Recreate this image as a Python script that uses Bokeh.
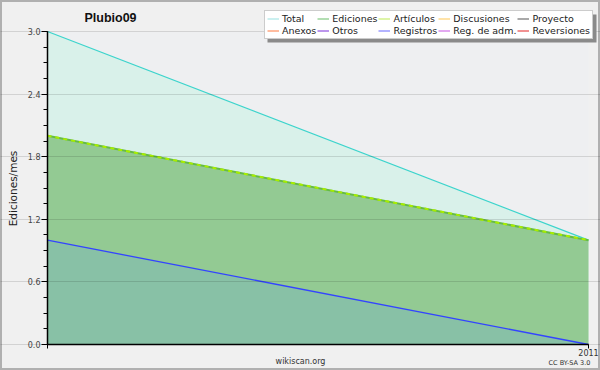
import numpy as np
from bokeh.plotting import figure
from bokeh.models import Range1d, FixedTicker, Label, Legend, LegendItem, BoxAnnotation
from bokeh.embed import file_html
from bokeh.resources import INLINE

# ---- data ----
months = ["2010-12", "2011-01"]
total = [3, 1]
ediciones = [2, 1]
articulos = [2, 1]
discusiones = [0, 0]
proyecto = [0, 0]
anexos = [0, 0]
otros = [0, 0]
registros = [1, 0]
reg_adm = [0, 0]
reversiones = [0, 0]
y_ticks = [0.0, 0.6, 1.2, 1.8, 2.4, 3.0]
x_tick_labels = ["", "2011"]
series_names = ["Total", "Ediciones", "Artículos", "Discusiones", "Proyecto",
                "Anexos", "Otros", "Registros", "Reg. de adm.", "Reversiones"]

x = list(range(len(months)))
x0, x1 = x[0], x[-1]
y0, y1 = 0.0, 3.0

W, H = 600, 370
# plot area in pixels (left, right, top, bottom)
PL, PR, PT, PB = 47, 588, 31, 344
sx = (x1 - x0) / (PR - PL)
sy = (y1 - y0) / (PB - PT)

FONT = "DejaVu Sans"

p = figure(width=W, height=H,
           x_range=Range1d(x0 - PL * sx, x1 + (W - PR) * sx),
           y_range=Range1d(y0 - (H - PB) * sy, y1 + PT * sy),
           output_backend="svg", toolbar_location=None,
           min_border_left=0, min_border_right=0, min_border_top=0, min_border_bottom=0,
           background_fill_color="#f0f0f0", border_fill_color="#f0f0f0")
p.title.visible = False
p.outline_line_color = "#b0b0b0"
p.outline_line_width = 3

# plot-area background
p.add_layout(BoxAnnotation(left=x0, right=x1, bottom=y0, top=y1, fill_color="#eeeff1",
                           fill_alpha=1, line_color=None, level="underlay"))

# fills
zeros = [0] * len(x)
p.varea(x=x, y1=zeros, y2=total, fill_color="#d9f1ea")
p.varea(x=x, y1=zeros, y2=ediciones, fill_color="#93ca93")
p.varea(x=x, y1=zeros, y2=registros, fill_color="#88c1a6")

# lines
line_colors = ["#3cd4cc", "#66bb44", "#a8ee00", "#ffcc44", "#606060",
               "#ff7744", "#8844dd", "#3344ff", "#cc55dd", "#dd3333"]
series = [total, ediciones, articulos, discusiones, proyecto,
          anexos, otros, registros, reg_adm, reversiones]
widths = [1.3, 2, 2, 1, 1, 1, 1, 1.3, 1, 1]
for name, vals, col, lw in zip(series_names, series, line_colors, widths):
    if name == "Artículos":
        p.line(x, vals, line_color=col, line_width=lw, line_dash="4 4")
    else:
        p.line(x, vals, line_color=col, line_width=lw)

# grid
p.xgrid.visible = False
p.ygrid.ticker = FixedTicker(ticks=y_ticks)
p.ygrid.bounds = (x0, x1)
p.ygrid.grid_line_color = "#000000"
p.ygrid.grid_line_alpha = 0.12
p.ygrid.level = "guide"

# y axis
yax = p.yaxis[0]
yax.fixed_location = x0
yax.bounds = (y0, y1)
yax.ticker = FixedTicker(ticks=y_ticks, minor_ticks=list(np.arange(0, 3.0001, 0.15)))
yax.major_label_overrides = {t: f"{t:.1f}" for t in y_ticks}
yax.major_tick_out = 6
yax.major_tick_in = 0
yax.minor_tick_out = 4
yax.minor_tick_in = 0
yax.major_label_standoff = 1
yax.axis_line_color = "black"
yax.axis_line_width = 1.5
yax.major_tick_line_color = "black"
yax.minor_tick_line_color = "black"
yax.major_label_text_font = FONT
yax.major_label_text_font_size = "8px"
yax.major_label_text_color = "#444444"

# x axis
xax = p.xaxis[0]
xax.fixed_location = y0
xax.bounds = (x0, x1)
xax.ticker = FixedTicker(ticks=x, minor_ticks=[])
xax.major_label_overrides = {xi: lab for xi, lab in zip(x, x_tick_labels)}
xax.major_tick_out = 4
xax.major_tick_in = 0
xax.minor_tick_out = 0
xax.major_label_standoff = 0
xax.axis_line_color = "black"
xax.axis_line_width = 1.5
xax.major_tick_line_color = "black"
xax.major_label_text_font = FONT
xax.major_label_text_font_size = "8px"
xax.major_label_text_color = "#333333"

# texts (screen units: origin at bottom-left of the canvas)
p.add_layout(Label(x=110, y=H - 17, x_units="screen", y_units="screen", text="Plubio09",
                   text_font="Liberation Sans", text_font_size="12.5px", text_font_style="bold",
                   text_align="center", text_baseline="middle", text_color="#111111"))
p.add_layout(Label(x=12, y=H - 188, x_units="screen", y_units="screen", text="Ediciones/mes",
                   angle=np.pi / 2, text_font=FONT, text_font_size="10.5px",
                   text_align="center", text_baseline="middle", text_color="#222222"))
p.add_layout(Label(x=300, y=H - 361, x_units="screen", y_units="screen", text="wikiscan.org",
                   text_font=FONT, text_font_size="8px",
                   text_align="center", text_baseline="middle", text_color="#333333"))
p.add_layout(Label(x=569, y=H - 362, x_units="screen", y_units="screen", text="CC BY-SA 3.0",
                   text_font=FONT, text_font_size="6.5px",
                   text_align="center", text_baseline="middle", text_color="#333333"))

# legend shadow
p.add_layout(BoxAnnotation(left=267, right=596, bottom=H - 42, top=H - 14,
                           left_units="screen", right_units="screen",
                           bottom_units="screen", top_units="screen",
                           fill_color="#8a8a8a", fill_alpha=1, line_color=None))

# legend (swatches use the lighter legend colours; placeholder renderers draw nothing)
legend_colors = ["#a8e6e6", "#80c880", "#c8ee70", "#ffd070", "#707070",
                 "#ff9060", "#9050e0", "#8080ff", "#d070e8", "#e84848"]
items = []
for n, c in zip(series_names, legend_colors):
    r = p.line([np.nan], [np.nan], line_color=c, line_width=1.2)
    items.append(LegendItem(label=n, renderers=[r]))

legend = Legend(items=items, location=(264, H - 39), ncols=5, orientation="horizontal",
                label_text_font=FONT, label_text_font_size="9.5px", label_text_color="#222222",
                glyph_width=12, glyph_height=11, label_height=11, label_standoff=3,
                spacing=1, padding=2, margin=0,
                border_line_color="#999999", border_line_width=1,
                background_fill_color="#ffffff", background_fill_alpha=1)
p.add_layout(legend, "center")

open("out.html", "w").write(file_html(p, INLINE))
